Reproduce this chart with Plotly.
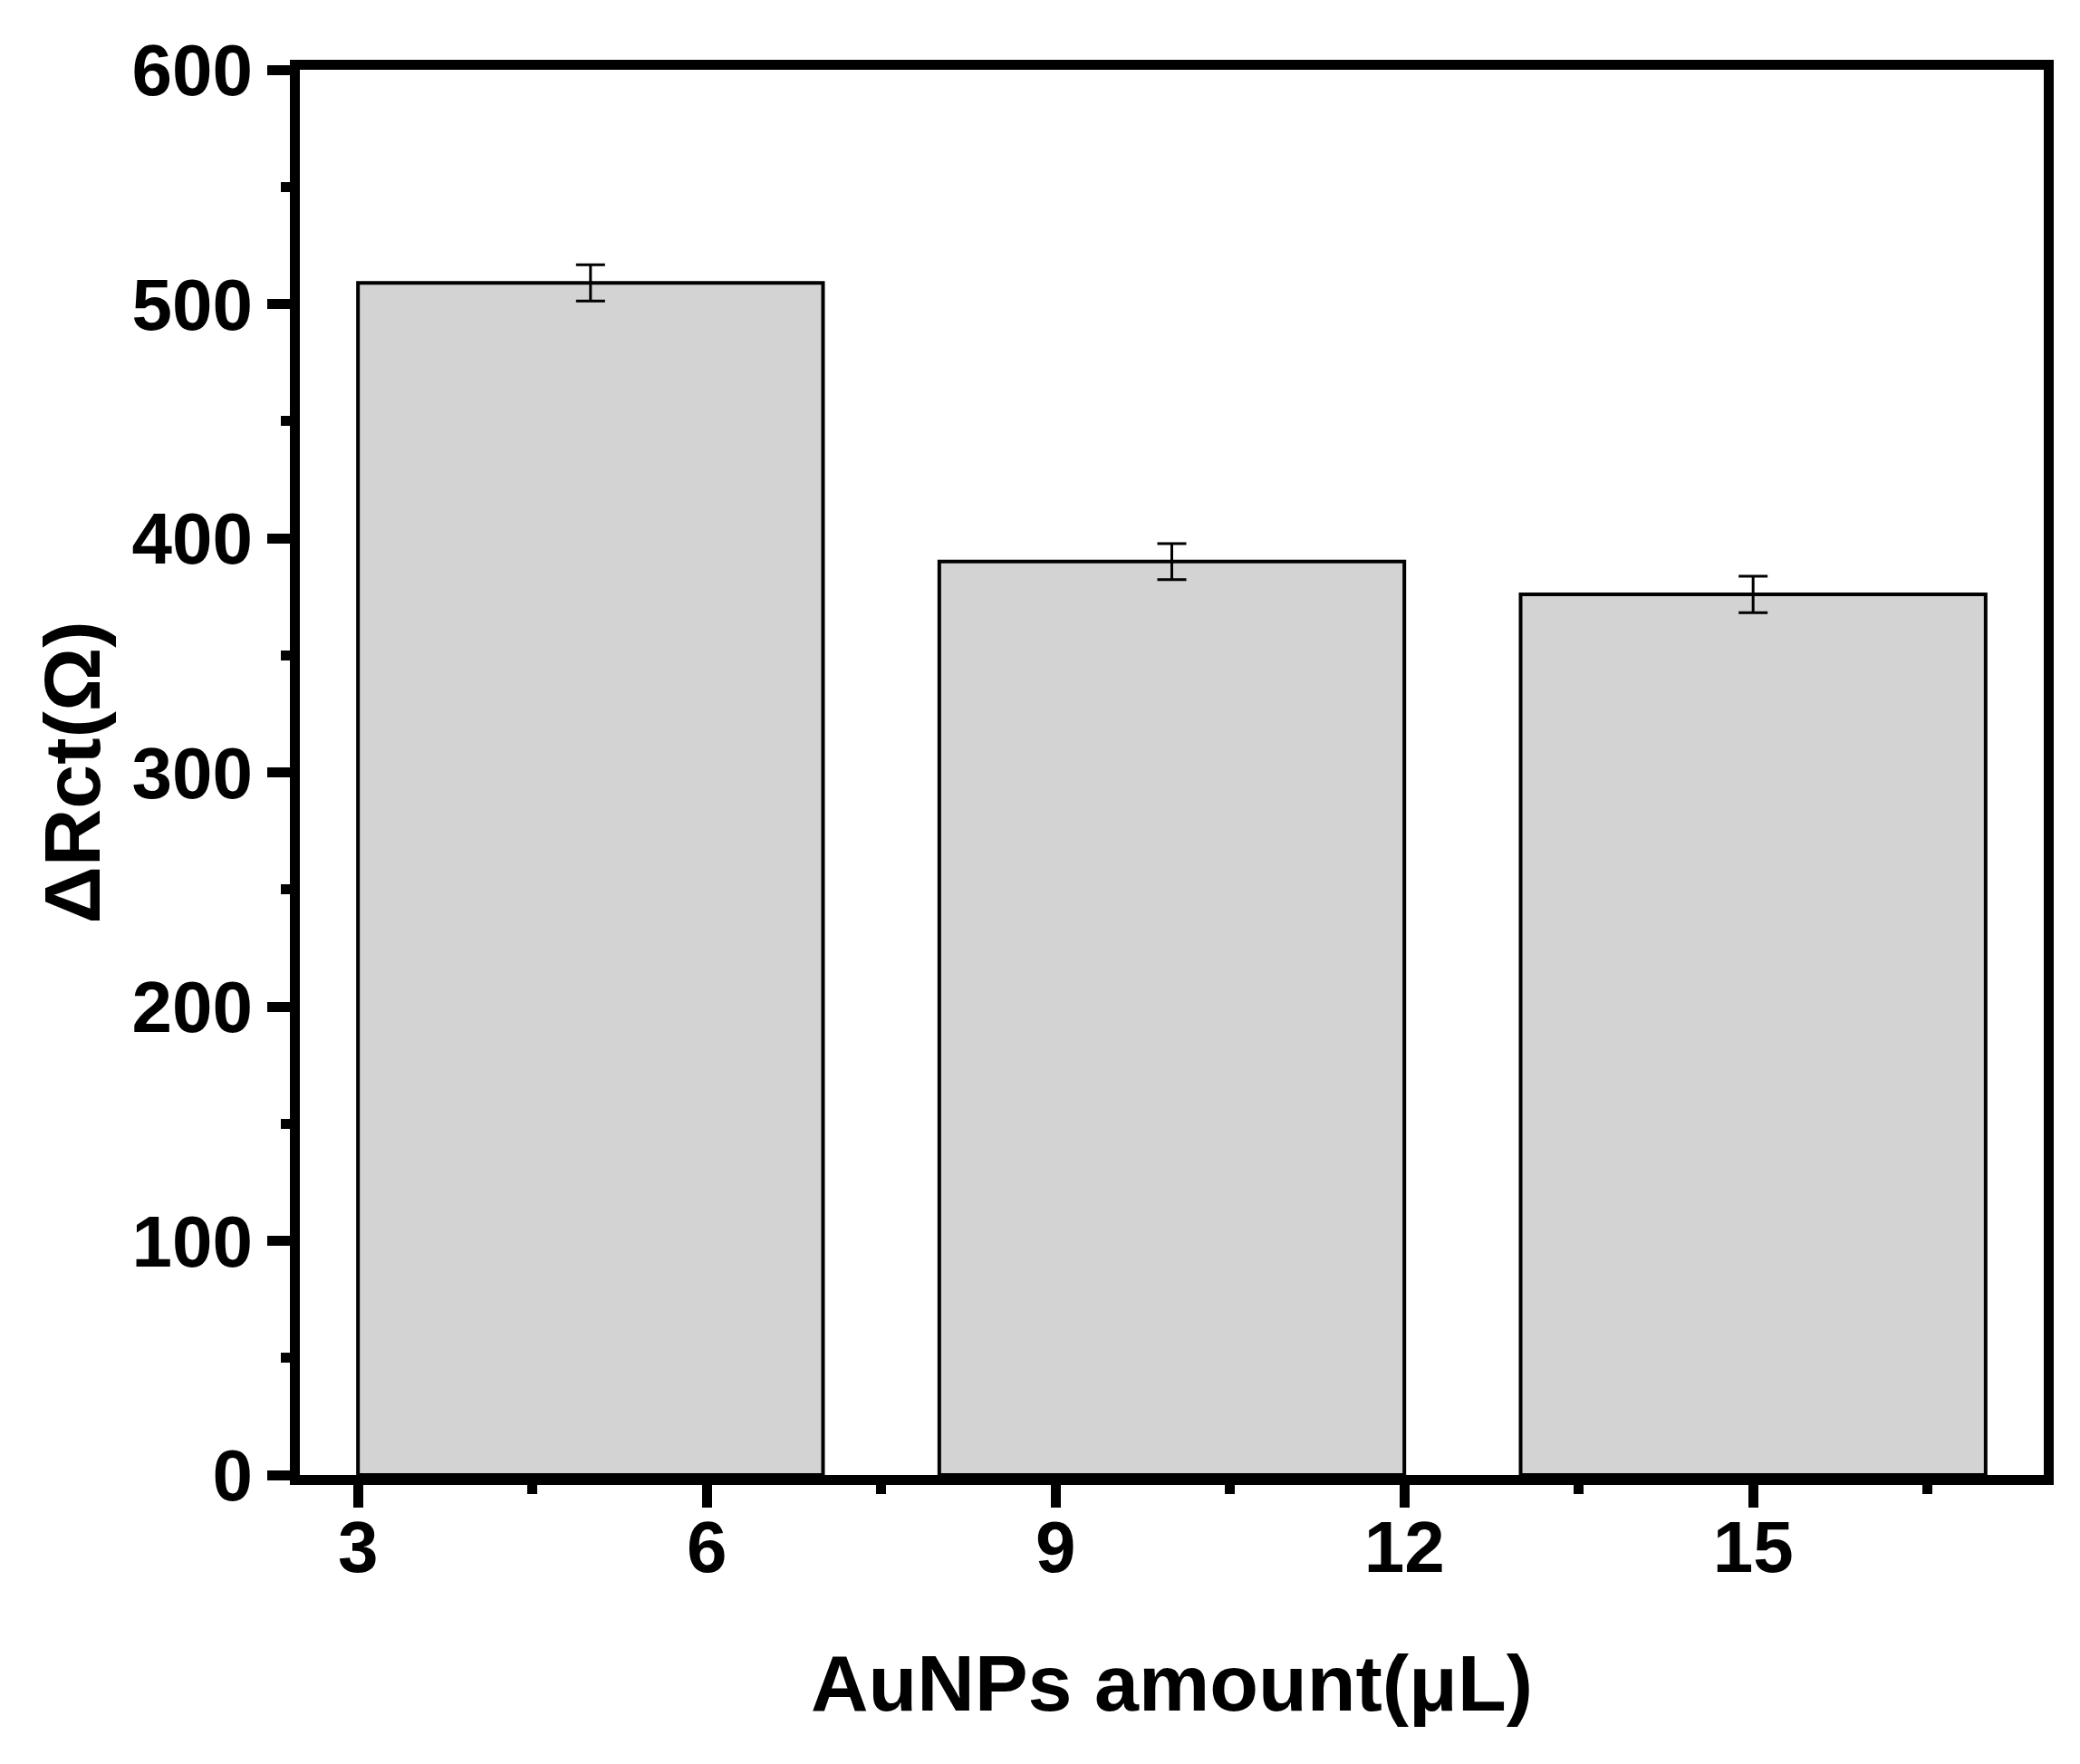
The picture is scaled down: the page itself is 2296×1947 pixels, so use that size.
import plotly.graph_objects as go

# Data
amount_ul = [5, 10, 15]          # bar centres (AuNPs amount, µL)
delta_rct = [509, 390, 376]      # ΔRct (Ω)
delta_rct_err = [7.7, 7.7, 7.8]  # error bars (Ω)
x_tick_vals = [3, 6, 9, 12, 15]
y_tick_vals = [0, 100, 200, 300, 400, 500, 600]

FONT = "Liberation Sans, Arial, sans-serif"

fig = go.Figure(
    go.Bar(
        x=amount_ul,
        y=delta_rct,
        width=4,
        marker=dict(color="#D3D3D3", line=dict(color="black", width=4)),
        error_y=dict(type="data", array=delta_rct_err, visible=True,
                     color="black", thickness=3, width=16),
    )
)

# page body has an 8px margin; compensate so the plot lands where the reference has it
W, H = 2280, 1931
fig.update_layout(
    width=W, height=H,
    margin=dict(l=323, r=32, t=69, b=311, autoexpand=False),
    plot_bgcolor="white", paper_bgcolor="white",
    showlegend=False,
    font=dict(family=FONT, color="black"),
)

fig.update_xaxes(
    range=[2.5, 17.5],
    tickmode="array", tickvals=x_tick_vals,
    ticks="outside", ticklen=25, tickwidth=11, tickcolor="black",
    minor=dict(dtick=1.5, tick0=0, ticks="outside", ticklen=10,
               tickwidth=11, tickcolor="black"),
    showline=True, linewidth=11, linecolor="black", mirror=True,
    showgrid=False, zeroline=False,
    tickfont=dict(family=FONT, size=80, weight="bold", color="black"),
    ticklabelstandoff=-25,
    title=dict(text="AuNPs amount(μL)",
               font=dict(family=FONT, size=88, weight="bold", color="black"),
               standoff=80),
    automargin=False,
)
fig.update_yaxes(
    range=[0, 600],
    tickmode="array", tickvals=y_tick_vals,
    ticks="outside", ticklen=25, tickwidth=11, tickcolor="black",
    minor=dict(dtick=50, tick0=0, ticks="outside", ticklen=10,
               tickwidth=11, tickcolor="black"),
    showline=True, linewidth=11, linecolor="black", mirror=True,
    showgrid=False, zeroline=False,
    tickfont=dict(family=FONT, size=80, weight="bold", color="black"),
    title=dict(text="ΔRct(Ω)",
               font=dict(family=FONT, size=88, weight="bold", color="black"),
               standoff=10),
    automargin=False,
)

fig.write_html("out.html")
